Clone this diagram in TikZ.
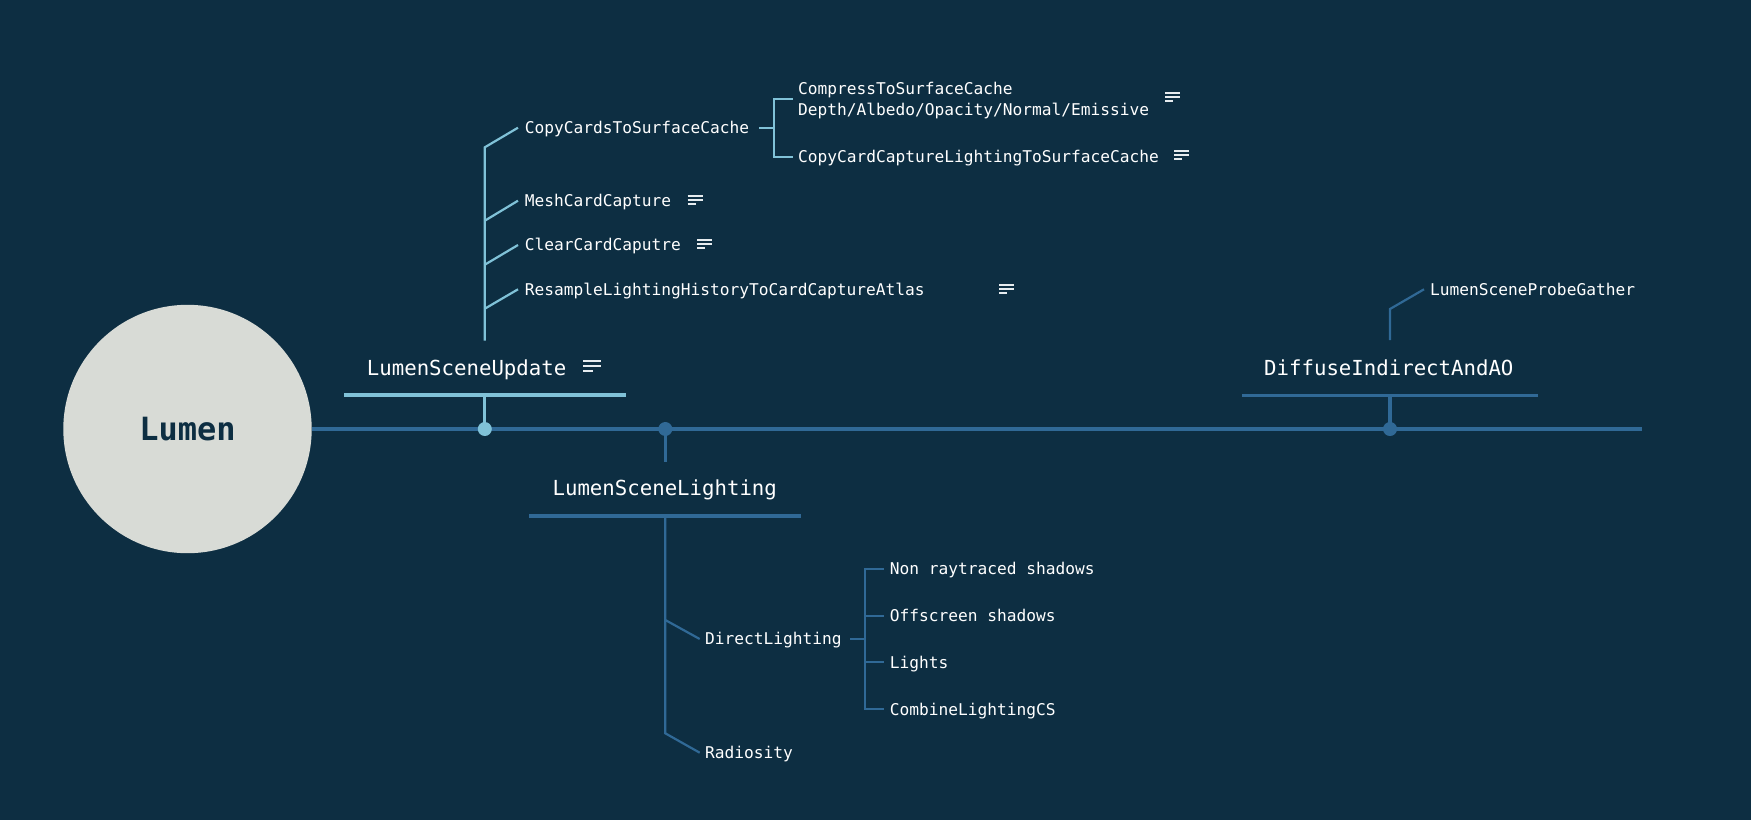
\documentclass[tikz,border=0pt]{standalone}
\usepackage{fontspec}
\newfontfamily\mono{DejaVu Sans Mono}
\newfontfamily\monobold{DejaVu Sans Mono Bold}
\definecolor{bgc}{HTML}{0D2E42}
\definecolor{lightc}{HTML}{80C2D8}
\definecolor{darkc}{HTML}{306996}
\definecolor{circc}{HTML}{D8DBD6}
\definecolor{iconc}{HTML}{E6ECEF}
\tikzset{
  smalltxt/.style={font=\mono\fontsize{16.2}{21}\selectfont, text=white, anchor=base west, inner sep=0pt},
  bigtxt/.style={font=\mono\fontsize{20.7}{25}\selectfont, text=white, anchor=base west, inner sep=0pt},
  lightln/.style={draw=lightc, line width=2.2pt},
  darkln/.style={draw=darkc, line width=2.2pt},
  lightthick/.style={draw=lightc, line width=3.2pt},
  darkthick/.style={draw=darkc, line width=3.2pt},
  noteicon/.pic={\draw[line width=1.7pt, iconc] (0,-4)--(15,-4) (0,0)--(15,0) (0,4)--(8,4);}
}
\begin{document}
\begin{tikzpicture}[x=1pt,y=-1pt]
\fill[bgc] (0,0) rectangle (1751,820);
\useasboundingbox (0,0) rectangle (1751,820);

% central topic
\node[circle, fill=circc, minimum size=248.4pt, inner sep=0pt, text=bgc,
      font=\monobold\fontsize{32}{36}\selectfont] (lumen) at (187.5,429) {Lumen};

% main axis
\coordinate (mainend) at (1642,429);
\draw[darkthick] (lumen.east) -- (mainend);

% ---------- LumenSceneUpdate ----------
\coordinate (d1) at (484.8,429);
\coordinate (u1) at (484.8,395);
\draw[lightthick] (344,395) -- (626,395);
\draw[lightthick] (d1) -- (u1);
\fill[lightc] (d1) circle (7pt);
\node[bigtxt] (upd) at (366.7,375.2) {LumenSceneUpdate};
\pic[scale=1.2] at (583,366) {noteicon};

\coordinate (uvb) at (484.8,340.7);
\coordinate (uv1) at (484.8,147.3);
\coordinate (uv2) at (484.8,220.7);
\coordinate (uv3) at (484.8,264.7);
\coordinate (uv4) at (484.8,308.7);
\coordinate (ue1) at (518,127.7);
\coordinate (ue2) at (518,200.7);
\coordinate (ue3) at (518,245);
\coordinate (ue4) at (518,289.3);
\draw[lightln] (uvb) -- (uv1) -- (ue1);
\draw[lightln] (uv2) -- (ue2);
\draw[lightln] (uv3) -- (ue3);
\draw[lightln] (uv4) -- (ue4);

\node[smalltxt] (ccs) at (524.6,133.6) {CopyCardsToSurfaceCache};
\node[smalltxt] (mcc) at (524.6,206.6) {MeshCardCapture};
\pic at (687.5,200) {noteicon};
\node[smalltxt] (ccc) at (524.6,250.9) {ClearCardCaputre};
\pic at (697,244) {noteicon};
\node[smalltxt] (rlh) at (524.6,295.2) {ResampleLightingHistoryToCardCaptureAtlas};
\pic at (999,288.7) {noteicon};

% bracket of CopyCardsToSurfaceCache
\coordinate (cb0) at (759,127.7);
\coordinate (cbm) at (773.6,127.7);
\coordinate (cbt) at (773.6,98.7);
\coordinate (cbb) at (773.6,156.7);
\coordinate (cet) at (792.5,98.7);
\coordinate (ceb) at (792.5,156.7);
\draw[lightln] (cb0) -- (cbm);
\draw[lightln] (cet) -- (cbt) -- (cbb) -- (ceb);
\node[font=\mono\fontsize{16.2}{21}\selectfont, text=white, anchor=west, inner sep=0pt, align=left]
  (cmp) at (797.9,100.4) {CompressToSurfaceCache\\Depth/Albedo/Opacity/Normal/Emissive};
\pic at (1165,97) {noteicon};
\node[smalltxt] (ccl) at (797.9,162.6) {CopyCardCaptureLightingToSurfaceCache};
\pic at (1174,155) {noteicon};

% ---------- LumenSceneLighting ----------
\coordinate (d2) at (665.3,429);
\coordinate (l0) at (665.3,461.7);
\draw[darkthick] (d2) -- (l0);
\fill[darkc] (d2) circle (7pt);
\node[bigtxt] (lsl) at (552.4,495.8) {LumenSceneLighting};
\draw[darkthick] (528.9,516) -- (801.3,516);
\coordinate (lv0) at (665.3,516);
\coordinate (lv1) at (665.3,620);
\coordinate (lv2) at (665.3,733.3);
\coordinate (le1) at (699.7,639);
\coordinate (le2) at (699.7,752.7);
\draw[darkln] (lv0) -- (lv2) -- (le2);
\draw[darkln] (lv1) -- (le1);
\node[smalltxt] (dl) at (705,644.9) {DirectLighting};
\node[smalltxt] (rad) at (705,758.9) {Radiosity};

\coordinate (db0) at (850,639);
\coordinate (dbm) at (864.6,639);
\coordinate (db1) at (864.6,569);
\coordinate (db2) at (864.6,616);
\coordinate (db3) at (864.6,662.3);
\coordinate (db4) at (864.6,709.3);
\coordinate (de1) at (883.5,569);
\coordinate (de2) at (883.5,616);
\coordinate (de3) at (883.5,662.3);
\coordinate (de4) at (883.5,709.3);
\draw[darkln] (db0) -- (dbm);
\draw[darkln] (de1) -- (db1) -- (db4) -- (de4);
\draw[darkln] (db2) -- (de2);
\draw[darkln] (db3) -- (de3);
\node[smalltxt] (nrs) at (889.7,574.9) {Non raytraced shadows};
\node[smalltxt] (ofs) at (889.7,621.9) {Offscreen shadows};
\node[smalltxt] (lts) at (889.7,668.2) {Lights};
\node[smalltxt] (clc) at (889.7,715.2) {CombineLightingCS};

% ---------- DiffuseIndirectAndAO ----------
\coordinate (d3) at (1390,429);
\coordinate (u3) at (1390,395.7);
\draw[darkthick] (1242,395.7) -- (1537.7,395.7);
\draw[darkthick] (d3) -- (u3);
\fill[darkc] (d3) circle (7pt);
\node[bigtxt] (dia) at (1264,375.8) {DiffuseIndirectAndAO};
\coordinate (pv0) at (1390,340);
\coordinate (pv1) at (1390,309);
\coordinate (pe1) at (1424,289.3);
\draw[darkln] (pv0) -- (pv1) -- (pe1);
\node[smalltxt] (spg) at (1430,295.9) {LumenSceneProbeGather};
\end{tikzpicture}
\end{document}
